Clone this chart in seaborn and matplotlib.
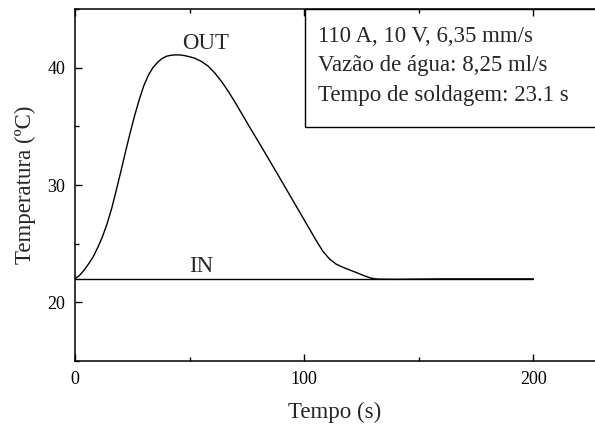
import matplotlib
matplotlib.use("Agg")
import matplotlib.pyplot as plt
from matplotlib.patches import Rectangle
from matplotlib.ticker import MultipleLocator
import pandas as pd
import seaborn as sns

# Outlet water temperature during and after welding
tempo_out = [0, 2, 4, 6, 8, 10, 12, 14, 16, 18, 20, 22, 24, 26, 28, 30, 32, 34,
             36, 38, 40, 42, 44, 46, 48, 50, 52, 55, 58, 61, 64, 67, 70, 73, 76,
             80, 85, 91, 98, 105, 108, 111, 114, 117, 120, 123, 126, 129, 132,
             140, 160, 200]
temp_out = [22.0, 22.3, 22.75, 23.3, 23.9, 24.7, 25.6, 26.7, 28.0, 29.55, 31.15,
            32.8, 34.4, 35.9, 37.25, 38.45, 39.35, 40.0, 40.45, 40.78, 40.98,
            41.06, 41.09, 41.08, 41.02, 40.93, 40.82, 40.55, 40.15, 39.55, 38.8,
            37.95, 37.0, 36.0, 35.0, 33.7, 32.05, 30.05, 27.7, 25.35, 24.4, 23.7,
            23.25, 22.98, 22.75, 22.52, 22.28, 22.07, 21.98, 21.96, 22.0, 22.0]

# Inlet water temperature (constant)
tempo_in = [0, 200]
temp_in = [22.0, 22.0]

info_lines = ["110 A, 10 V, 6,35 mm/s",
              "Vazão de água: 8,25 ml/s",
              "Tempo de soldagem: 23.1 s"]

sns.set_style("ticks")
plt.rcParams["font.family"] = ["Liberation Serif", "DejaVu Serif"]

fig = plt.figure(figsize=(5.95, 4.30), dpi=100)
ax = fig.add_axes([75 / 595, 1 - 361 / 430, 1 - 75 / 595, (361 - 9) / 430])

df_out = pd.DataFrame({"Tempo": tempo_out, "Temperatura": temp_out})
df_in = pd.DataFrame({"Tempo": tempo_in, "Temperatura": temp_in})
sns.lineplot(data=df_out, x="Tempo", y="Temperatura", ax=ax, color="black", lw=1.0)
sns.lineplot(data=df_in, x="Tempo", y="Temperatura", ax=ax, color="black", lw=1.0)

ax.set_xlim(0, 226.9)
ax.set_ylim(15, 45)
ax.xaxis.set_major_locator(MultipleLocator(100))
ax.xaxis.set_minor_locator(MultipleLocator(50))
ax.yaxis.set_major_locator(MultipleLocator(10))
ax.yaxis.set_minor_locator(MultipleLocator(5))
ax.tick_params(which="both", direction="in", top=True, right=False,
               labelsize=13, width=1.0, colors="black", pad=7)
ax.tick_params(which="major", length=5)
ax.tick_params(which="minor", length=3)
for side in ["left", "bottom", "top"]:
    ax.spines[side].set_linewidth(1.1)
    ax.spines[side].set_color("black")
ax.spines["right"].set_visible(False)

ax.set_xlabel("Tempo (s)", fontsize=16.5, labelpad=10)
ax.set_ylabel("Temperatura (ºC)", fontsize=16.5, labelpad=8)

ax.text(57, 42.1, "OUT", fontsize=16.5, ha="center", va="center")
ax.text(55.3, 23.05, "IN", fontsize=16.5, ha="center", va="center")

# Welding parameters box in the top-right corner
fig.patches.append(Rectangle((305 / 595, 1 - 127 / 430), 0.6, (127 - 9) / 430,
                             transform=fig.transFigure, fill=False,
                             edgecolor="black", lw=1.0))
for i, line in enumerate(info_lines):
    fig.text(318 / 595, 1 - (36 + 30 * i) / 430, line, fontsize=16.5,
             ha="left", va="center")

fig.savefig("out.png", dpi=100)
